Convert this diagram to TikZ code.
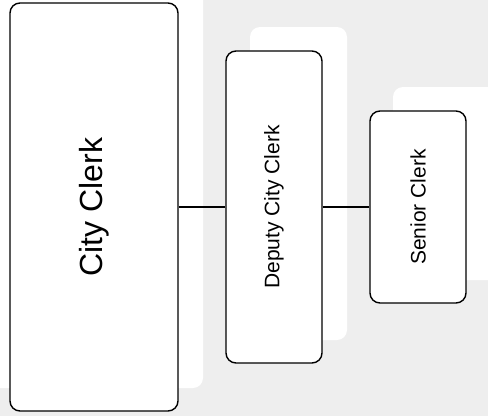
\documentclass[tikz,border=0pt]{standalone}
\usepackage{fontspec}
\setmainfont{Liberation Sans}
\definecolor{bggray}{HTML}{EEEEEE}
\begin{document}
\begin{tikzpicture}[x=1pt,y=-1pt,
  role/.style={draw=black, fill=white, line width=1.4pt, rounded corners=10pt, inner sep=0pt},
  panel/.style={fill=white, rounded corners=10pt},
  link/.style={draw=black, line width=1.4pt}]
  \useasboundingbox (0,0) rectangle (488,416);
  \clip (0,0) rectangle (488,416);
  \fill[bggray] (0,0) rectangle (488,416);
  \fill[panel] (-20,-20) rectangle (203,388);
  \fill[panel] (250,27) rectangle (347,340);
  \fill[panel] (393,87) rectangle (520,280);
  \node[role, minimum width=168pt, minimum height=408pt] (cc) at (94,207)
    {\rotatebox{90}{\fontsize{32}{38}\selectfont City Clerk}};
  \node[role, minimum width=96pt, minimum height=312pt] (dc) at (274,207)
    {\rotatebox{90}{\fontsize{21}{25}\selectfont Deputy City Clerk}};
  \node[role, minimum width=96pt, minimum height=192pt] (sc) at (418,207)
    {\rotatebox{90}{\fontsize{21}{25}\selectfont Senior Clerk}};
  \draw[link] (cc.east) -- (dc.west);
  \draw[link] (dc.east) -- (sc.west);
\end{tikzpicture}
\end{document}
